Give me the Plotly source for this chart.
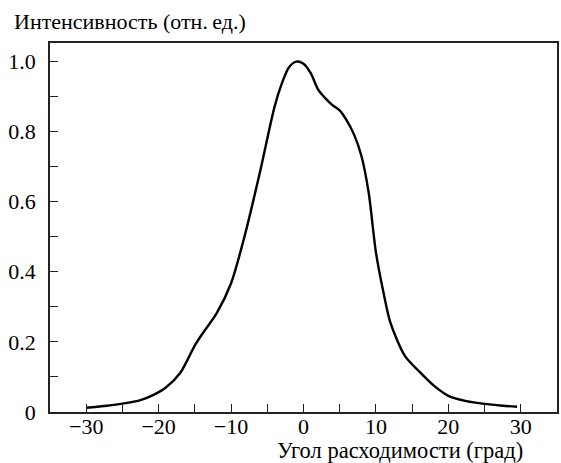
import plotly.graph_objects as go

# Data
angle_deg = [-30, -27.5, -25, -22.5, -21, -19, -17, -15, -14, -12, -10, -8, -6, -4, -3,
             -2, -1, 0, 1, 2, 3, 4, 5, 6, 7, 8, 9, 10, 11, 12, 14, 16, 18, 20, 22.5,
             25, 27.5, 29.5]
intensity = [0.012, 0.017, 0.024, 0.034, 0.046, 0.070, 0.112, 0.190, 0.222, 0.281,
             0.367, 0.512, 0.685, 0.870, 0.936, 0.983, 0.999, 0.993, 0.966, 0.920,
             0.895, 0.875, 0.860, 0.830, 0.790, 0.730, 0.625, 0.455, 0.345, 0.255,
             0.160, 0.115, 0.075, 0.046, 0.031, 0.023, 0.018, 0.015]

x_tickvals = [-30, -25, -20, -15, -10, -5, 0, 5, 10, 15, 20, 25, 30]
x_ticktext = ["\u221230", "", "\u221220", "", "\u221210", "", "0", "", "10", "", "20", "", "30"]
y_tickvals = [0, 0.1, 0.2, 0.3, 0.4, 0.5, 0.6, 0.7, 0.8, 0.9, 1.0]
y_ticktext = ["0", "", "0.2", "", "0.4", "", "0.6", "", "0.8", "", "1.0"]

y_title = "Интенсивность (отн.\u2009ед.)"
x_title = "Угол расходимости (град)"

FONT = "'Liberation Serif', 'Times New Roman', 'DejaVu Serif', serif"
FS = 22

fig = go.Figure()
fig.add_trace(go.Scatter(
    x=angle_deg, y=intensity, mode="lines",
    line=dict(color="black", width=2.4, shape="spline", smoothing=0.8),
    hoverinfo="skip", showlegend=False,
))

axis_common = dict(
    showline=True, mirror=True, linecolor="#222", linewidth=1.6,
    ticks="inside", ticklen=8, tickwidth=1.3, tickcolor="#222",
    showgrid=False, zeroline=False,
    tickfont=dict(family=FONT, size=FS, color="black"),
)

fig.update_layout(
    width=561, height=463,
    margin=dict(l=50, r=2, t=43, b=51),
    paper_bgcolor="white", plot_bgcolor="white",
    font=dict(family=FONT, size=FS, color="black"),
    xaxis=dict(range=[-35, 35], tickmode="array", tickvals=x_tickvals,
               ticktext=x_ticktext, ticklabelstandoff=-6, **axis_common),
    yaxis=dict(range=[0, 1.052], tickmode="array", tickvals=y_tickvals,
               ticktext=y_ticktext, ticklabelstandoff=8, **axis_common),
    annotations=[
        dict(text=y_title, xref="paper", yref="paper", x=-0.074, y=1.0,
             yshift=22, xanchor="left", yanchor="middle", showarrow=False,
             font=dict(family=FONT, size=FS, color="black")),
        dict(text=x_title, xref="paper", yref="paper", x=0.936, y=0,
             yshift=-38.5, xanchor="right", yanchor="middle", showarrow=False,
             font=dict(family=FONT, size=22.5, color="black")),
    ],
)

fig.write_html("out.html", config={"displayModeBar": False},
               post_script="document.body.style.margin='0';document.body.style.overflow='hidden';")
